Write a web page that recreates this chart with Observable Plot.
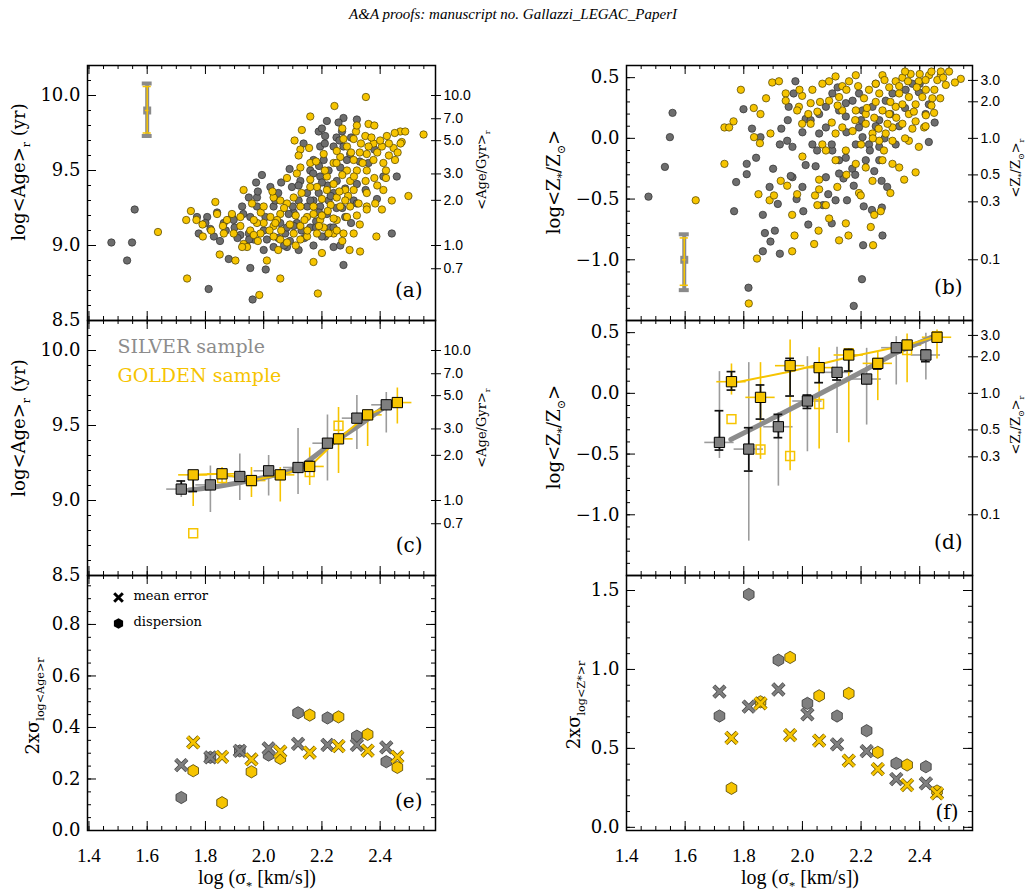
<!DOCTYPE html>
<html><head><meta charset="utf-8">
<script src="https://cdn.jsdelivr.net/npm/d3@7"></script>
<script src="https://cdn.jsdelivr.net/npm/@observablehq/plot@0.6"></script>
<style>
body{margin:0;background:#fff;}
#page{position:relative;width:1027px;height:894px;overflow:hidden;background:#fff;}
</style></head><body><div id="page"></div>
<script>
// ---------------- DATA ----------------
// panel (a): log<Age>_r vs log sigma (silver = grey, golden = yellow)
const ageSilver = [[1.477,9.02],[1.531,8.90],[1.548,9.02],[1.557,9.24],[1.811,8.71],[1.962,8.64],[1.954,8.85],[2.007,8.84],[1.994,9.47],[1.974,9.42],[2.023,9.39],[2.089,9.51],[2.217,9.83],[2.274,9.85],[2.32,9.84],[2.257,9.82],[2.269,9.76],[2.189,9.76],[2.211,9.73],[2.44,9.08],[2.389,9.31],[2.411,9.46],[2.457,9.46],[2.274,8.87],[1.777,9.08],[1.806,9.19],[1.771,9.19],[1.88,8.91],[1.829,9.06],[1.817,9.11],[1.863,9.15],[1.891,9.19],[1.92,9.07],[1.949,9.08],[1.966,9.04],[1.926,9.26],[1.949,9.32],[1.977,9.32],[2.006,9.19],[2.034,9.26],[2.057,9.15],[2.074,9.08],[2.103,9.22],[2.114,9.15],[2.12,8.97],[2.097,9.39],[2.126,9.43],[2.16,9.5],[2.171,9.57],[2.194,9.46],[2.189,9.35],[2.194,9.26],[2.217,9.21],[2.229,9.12],[2.211,9.06],[2.24,8.99],[2.263,9.0],[2.171,9.0],[2.16,9.12],[2.171,9.3],[2.149,9.35],[2.24,9.35],[2.251,9.43],[2.263,9.52],[2.286,9.57],[2.297,9.61],[2.24,9.66],[2.274,9.66],[2.309,9.3],[2.32,9.41],[2.194,9.66],[2.137,9.68],[2.011,9.04],[2.034,8.99],[2.08,8.99],[1.897,9.17],[1.977,9.26],[1.954,9.19],[2.086,9.21],[2.223,9.5],[2.206,9.57],[2.223,9.3],[2.103,9.13],[2.0,9.1],[2.05,9.05],[2.12,9.3],[2.15,9.26],[2.18,9.16],[2.22,9.4],[2.27,9.25],[2.3,9.15],[2.2,9.06],[2.09,9.03],[1.94,9.0],[1.87,9.1],[1.9,9.12],[2.05,9.35],[2.25,9.72],[2.33,9.56],[2.35,9.37],[2.06,9.42],[2.12,9.4],[2.17,9.48],[2.19,9.53],[2.21,9.68],[2.26,9.7],[2.2,9.42],[2.23,9.33],[2.25,9.25],[2.28,9.19],[2.18,9.12],[2.13,9.1],[2.07,9.0],[2.0,8.97],[1.95,9.04],[1.85,9.03],[1.8,9.15],[1.84,9.22],[1.98,9.36],[2.04,9.3],[2.1,9.26],[2.16,9.3],[2.19,9.22],[2.24,9.12],[2.28,9.38],[2.32,9.28],[2.36,9.55],[2.38,9.64],[2.3,9.72],[2.2,9.78],[2.08,9.12],[2.14,9.05],[1.91,9.05],[1.93,9.21]];
const ageGolden = [[1.637,9.09],[1.737,8.78],[1.734,9.17],[1.75,9.23],[1.769,9.17],[1.791,9.06],[1.834,9.29],[1.84,9.21],[1.849,8.94],[1.903,8.9],[1.931,9.37],[1.891,9.21],[1.931,9.01],[1.943,8.99],[2.011,8.9],[1.985,8.67],[2.057,8.78],[2.186,8.68],[2.171,8.89],[2.106,9.7],[2.131,9.77],[2.156,9.65],[2.126,9.64],[2.16,9.86],[2.243,9.93],[2.351,9.99],[2.549,9.74],[2.497,9.33],[2.387,9.06],[2.331,8.96],[2.295,8.97],[2.469,9.76],[2.486,9.76],[2.474,9.69],[2.446,9.65],[2.451,9.57],[2.423,9.73],[2.406,9.66],[2.377,9.68],[2.36,9.81],[2.349,9.73],[2.317,9.76],[2.334,9.68],[2.354,9.61],[2.377,9.57],[2.411,9.55],[2.354,9.5],[2.309,9.57],[2.32,9.5],[2.286,9.5],[2.297,9.43],[2.28,9.37],[2.309,9.37],[2.297,9.26],[2.326,9.28],[2.354,9.35],[2.411,9.37],[2.406,9.24],[2.354,9.26],[2.32,9.2],[2.286,9.19],[2.263,9.26],[2.251,9.17],[2.24,9.08],[2.223,9.08],[2.194,9.17],[2.206,9.12],[2.183,9.08],[2.149,9.06],[2.126,9.04],[2.08,9.02],[2.057,9.04],[2.034,9.06],[2.057,9.21],[2.08,9.28],[2.057,9.3],[2.034,9.32],[2.103,9.32],[2.126,9.26],[2.149,9.19],[2.171,9.21],[2.183,9.39],[2.217,9.37],[2.24,9.41],[2.251,9.32],[2.217,9.46],[2.24,9.55],[2.263,9.59],[2.251,9.63],[2.286,9.66],[2.274,9.71],[2.309,9.71],[2.206,9.61],[2.16,9.55],[2.126,9.52],[2.114,9.48],[2.16,9.39],[2.0,9.15],[1.977,9.15],[1.989,9.08],[1.966,9.17],[2.023,9.19],[2.046,9.17],[2.034,9.13],[1.92,9.13],[1.897,9.08],[1.874,9.17],[1.863,9.08],[1.954,9.1],[1.966,9.07],[1.926,8.99],[2.103,9.08],[2.126,9.13],[2.171,9.26],[2.251,9.1],[2.274,9.08],[2.309,9.08],[2.354,9.24],[2.383,9.28],[2.44,9.3],[2.33,9.62],[2.37,9.72],[2.39,9.62],[2.43,9.6],[2.46,9.62],[2.42,9.5],[2.38,9.45],[2.27,9.47],[2.29,9.33],[2.23,9.27],[2.2,9.2],[2.14,9.17],[2.09,9.14],[2.02,9.1],[1.99,9.22],[1.96,9.28],[2.06,9.1],[2.25,9.55],[2.31,9.46],[2.35,9.43],[2.0,9.26],[2.03,9.36],[2.07,9.25],[2.11,9.2],[2.13,9.35],[2.16,9.44],[2.2,9.31],[2.22,9.23],[2.26,9.36],[2.28,9.3],[2.3,9.62],[2.34,9.55],[2.36,9.66],[2.4,9.7],[2.43,9.68],[2.45,9.75],[2.38,9.8],[2.32,9.8],[2.27,9.78],[2.19,9.13],[2.15,9.1],[2.11,9.0],[2.05,8.97],[1.98,9.03],[1.92,9.19],[1.86,9.13],[1.82,9.1],[1.79,9.14],[2.24,9.18],[2.33,9.14],[2.39,9.4],[2.42,9.45],[2.47,9.68],[2.21,9.5],[2.18,9.56],[2.12,9.6],[2.08,9.45],[2.04,9.15],[2.2,8.95],[2.27,9.03]];
// typical error bar: x, y, silverLo, silverHi, goldenLo, goldenHi
const ageTypical = [1.6, 9.9, 9.73, 10.08, 9.75, 10.06];

// panel (b): log<Z*/Zsun> vs log sigma
const metSilver = [[1.475,-0.48],[1.531,-0.235],[1.548,0.01],[1.557,0.21],[1.767,-0.6],[1.774,-0.36],[1.81,-0.295],[1.81,-0.21],[1.799,0.24],[1.842,-0.16],[1.828,0.08],[1.857,0.01],[1.865,-0.63],[1.872,-0.78],[1.891,-0.85],[1.906,-0.76],[1.865,-0.93],[1.923,-0.95],[1.816,-1.23],[1.916,-0.54],[1.888,-0.4],[2.011,-0.22],[2.003,-0.6],[2.02,-0.71],[2.045,-0.23],[2.08,-0.32],[2.088,-0.46],[2.113,-0.51],[2.14,-0.33],[2.152,-0.51],[2.175,-0.39],[2.209,-0.56],[2.237,-0.59],[2.271,-0.57],[2.273,-0.8],[2.207,-0.88],[2.203,-1.16],[2.175,-1.38],[2.289,-0.4],[2.431,-0.03],[2.451,0.13],[2.431,0.28],[1.966,-0.32],[1.96,-0.31],[1.923,-0.05],[1.948,-0.02],[1.966,-0.07],[1.928,0.08],[1.953,0.26],[1.97,0.37],[1.976,0.47],[2.011,0.16],[2.028,0.15],[2.057,0.04],[2.08,0.09],[2.102,-0.1],[2.125,-0.18],[2.148,-0.16],[2.125,0.23],[2.148,0.29],[2.182,-0.05],[2.205,0.01],[2.227,-0.05],[2.216,-0.18],[2.245,-0.27],[2.262,-0.18],[2.262,-0.07],[2.193,0.09],[2.205,0.23],[2.239,0.26],[2.262,0.15],[2.284,0.31],[2.307,0.37],[2.352,0.4],[2.375,0.45],[2.397,0.38],[2.193,0.37],[2.171,0.31],[2.148,0.18],[2.318,-0.05],[2.08,0.26],[2.057,0.2],[2.102,0.37],[2.034,-0.05],[2.125,-0.29],[2.15,0.05],[2.2,0.15],[2.25,0.1],[2.3,0.2],[2.35,0.25],[2.28,0.0],[2.23,-0.1],[2.17,-0.25],[2.1,-0.05],[2.05,-0.1],[2.0,0.05],[1.95,0.15],[2.12,0.42],[2.25,0.45],[2.4,0.45],[2.0,-0.4],[2.07,-0.55],[2.18,-0.3],[2.33,0.1],[2.42,0.2],[1.9,-0.25],[1.98,-0.5],[2.1,-0.7],[2.27,-0.35]];
const metGolden = [[1.636,-0.51],[1.734,0.09],[1.75,0.09],[1.765,0.14],[1.734,-0.21],[1.79,0.4],[1.834,0.25],[1.857,0.2],[1.876,0.33],[1.835,0.01],[1.855,-0.04],[1.85,-0.46],[1.845,-0.99],[1.817,-1.36],[1.891,0.04],[1.897,0.46],[1.92,0.47],[1.926,-0.35],[1.948,-0.39],[1.888,-0.51],[1.903,-0.47],[1.982,-0.46],[1.965,-0.63],[1.973,-0.8],[1.965,-0.93],[2.04,-0.87],[2.055,-0.76],[2.051,-0.55],[2.043,-0.47],[2.057,-0.34],[2.057,-0.42],[2.08,-0.55],[2.091,-0.66],[2.125,-0.84],[2.148,-0.7],[2.157,-0.8],[2.193,-0.45],[2.199,-0.47],[2.233,-0.73],[2.241,-0.88],[2.245,-0.63],[2.267,-0.6],[2.119,-0.4],[2.113,-0.18],[2.148,-0.1],[2.182,-0.21],[2.216,-0.24],[2.239,-0.35],[2.273,-0.18],[2.278,-0.1],[2.307,-0.21],[2.33,-0.24],[2.347,-0.34],[2.386,-0.28],[2.397,-0.07],[2.307,-0.02],[2.363,-0.02],[2.375,0.08],[2.415,0.09],[2.449,0.21],[2.443,0.33],[2.489,0.44],[2.472,0.52],[2.54,0.49],[2.421,0.19],[2.386,0.14],[2.363,0.2],[2.341,0.12],[2.307,0.09],[2.284,0.04],[2.262,-0.02],[2.239,0.04],[2.216,0.12],[2.245,0.17],[2.273,0.23],[2.296,0.2],[2.318,0.26],[2.341,0.28],[2.363,0.34],[2.386,0.28],[2.409,0.34],[2.421,0.4],[2.397,0.47],[2.369,0.53],[2.341,0.5],[2.318,0.47],[2.296,0.42],[2.273,0.52],[2.25,0.45],[2.227,0.4],[2.21,0.33],[2.182,0.52],[2.159,0.47],[2.136,0.43],[2.113,0.51],[2.091,0.47],[2.068,0.45],[2.034,0.4],[2.028,0.29],[2.051,0.22],[1.999,0.35],[1.988,0.26],[1.982,0.23],[1.943,0.37],[1.943,0.31],[2.028,0.12],[1.999,0.12],[2.068,-0.05],[2.08,-0.1],[2.113,0.04],[2.136,0.09],[2.171,0.06],[2.182,0.23],[2.216,0.2],[2.262,0.37],[2.33,0.37],[2.46,0.48],[2.432,0.52],[2.472,0.55],[2.125,0.34],[2.091,0.31],[2.136,0.23],[2.3,0.3],[2.33,0.43],[2.36,0.47],[2.39,0.42],[2.42,0.48],[2.45,0.4],[2.48,0.5],[2.5,0.55],[2.44,0.55],[2.4,0.53],[2.35,0.55],[2.28,0.48],[2.25,0.3],[2.22,0.25],[2.19,0.43],[2.15,0.4],[2.12,0.27],[2.18,0.15],[2.26,0.08],[2.32,0.17],[2.38,0.22],[2.44,0.27],[2.47,0.33],[2.52,0.46],[2.29,0.12],[2.24,0.0],[2.2,-0.05],[2.35,0.0],[2.42,0.1],[2.06,0.3],[2.02,0.2],[1.99,0.4],[2.1,0.13],[2.0,-0.15],[2.15,-0.3],[2.3,-0.45]];
const metTypical = [1.597, -1.0, -1.25, -0.79, -1.21, -0.82];

// bins (c),(d),(e),(f)
const binXSilver = [1.717,1.817,1.918,2.017,2.118,2.219,2.32,2.421];
const binXGolden = [1.758,1.857,1.958,2.057,2.158,2.257,2.357,2.459];
const binHalfWidth = [0.05,0.05,0.05,0.05,0.05,0.05,0.05,0.05];

// panel (c)
const ageMedSilver = [9.076,9.104,9.16,9.198,9.22,9.382,9.549,9.638];
const ageMedGolden = [9.171,9.178,9.133,9.171,9.227,9.411,9.571,9.653];
const ageOpenGolden = [8.782,9.15,9.13,9.17,9.19,9.498,9.57,9.655];
const ageDispSilverLo = [9.02,8.92,9.0,9.03,9.04,9.13,9.34,9.45];
const ageDispSilverHi = [9.13,9.23,9.31,9.30,9.48,9.57,9.70,9.72];
const ageDispGoldenLo = [8.96,9.11,9.02,8.99,9.10,9.18,9.36,9.51];
const ageDispGoldenHi = [9.19,9.22,9.22,9.22,9.35,9.62,9.60,9.75];
const ageErrSilverLo = [9.06,9.09,9.14,9.18,9.21,9.37,9.53,9.62];
const ageErrSilverHi = [9.13,9.12,9.18,9.22,9.24,9.40,9.57,9.66];
const ageErrGoldenLo = [9.06,9.16,9.11,9.15,9.20,9.39,9.55,9.63];
const ageErrGoldenHi = [9.18,9.20,9.16,9.19,9.26,9.43,9.59,9.67];
const ageTrendSilverX = [1.743,1.817,1.92,2.017,2.117,2.219,2.32,2.42];
const ageTrendSilverY = [9.07,9.085,9.12,9.16,9.21,9.36,9.49,9.63];

// panel (d)
const metMedSilver = [-0.404,-0.459,-0.275,-0.063,0.173,0.118,0.376,0.316];
const metMedGolden = [0.096,-0.033,0.228,0.212,0.316,0.247,0.398,0.462];
const metOpenGolden = [-0.212,-0.462,-0.516,-0.088,0.33,0.25,0.357,0.47];
const metDispSilverLo = [-0.536,-1.217,-0.764,-0.481,-0.33,-0.261,0.069,0.11];
const metDispSilverHi = [0.179,0.253,-0.159,0.302,0.379,0.371,0.467,0.494];
const metDispGoldenLo = [-0.014,-0.544,-0.637,-0.459,-0.407,-0.06,0.088,0.283];
const metDispGoldenHi = [0.242,0.253,0.44,0.376,0.363,0.338,0.489,0.522];
const metErrSilverLo = [-0.467,-0.64,-0.365,-0.124,0.11,0.082,0.343,0.261];
const metErrSilverHi = [-0.143,-0.283,-0.173,-0.014,0.198,0.151,0.407,0.357];
const metErrGoldenLo = [0.027,-0.212,-0.022,0.088,0.184,0.2,0.371,0.426];
const metErrGoldenHi = [0.179,0.069,0.288,0.247,0.363,0.28,0.434,0.489];
const metTrendSilverX = [1.756,1.915,2.011,2.216,2.316,2.446];
const metTrendSilverY = [-0.38,-0.185,-0.065,0.195,0.33,0.467];
const metTrendGoldenX = [1.756,1.955,2.156,2.356,2.455];
const metTrendGoldenY = [0.082,0.178,0.297,0.398,0.467];

// panel (e)
const sAgeErrSilver = [0.254,0.284,0.309,0.319,0.336,0.332,0.332,0.323];
const sAgeErrGolden = [0.342,0.286,0.276,0.306,0.302,0.328,0.31,0.286];
const sAgeDispSilver = [0.128,0.284,0.309,0.293,0.457,0.437,0.366,0.267];
const sAgeDispGolden = [0.232,0.108,0.228,0.28,0.448,0.441,0.373,0.245];
// panel (f)
const sMetErrSilver = [0.859,0.764,0.873,0.715,0.525,0.483,0.306,0.278];
const sMetErrGolden = [0.567,0.785,0.584,0.549,0.422,0.369,0.268,0.215];
const sMetDispSilver = [0.705,1.475,1.059,0.785,0.705,0.612,0.405,0.384];
const sMetDispGolden = [0.247,0.795,1.076,0.833,0.848,0.475,0.395,0.23];

// ticks
const xMajor = [1.4,1.6,1.8,2.0,2.2,2.4];
const xTickLabels = ["1.4","1.6","1.8","2.0","2.2","2.4"];
const xMinor = d3.range(28, 53).map(i => i * 0.05);
const ageMajor = [8.5,9.0,9.5,10.0];
const ageTickLabels = ["8.5","9.0","9.5","10.0"];
const ageMinor = d3.range(85, 103).map(i => i / 10);
const ageGyrTicks = [0.7,1.0,2.0,3.0,5.0,7.0,10.0];
const metMajor = [-1.5,-1.0,-0.5,0.0,0.5];
const metLabelVals = [-1.0,-0.5,0.0,0.5];
const metTickLabels = ["\u22121.0","\u22120.5","0.0","0.5"];
const metMinor = d3.range(-15, 7).map(i => i / 10);
const zRatioTicks = [0.1,0.3,0.5,1.0,2.0,3.0];
const sAgeMajor = [0,0.2,0.4,0.6,0.8];
const sAgeTickLabels = ["0.0","0.2","0.4","0.6","0.8"];
const sAgeMinor = d3.range(0, 20).map(i => i * 0.05);
const sMetMajor = [0,0.5,1.0,1.5];
const sMetTickLabels = ["0.0","0.5","1.0","1.5"];
const sMetMinor = d3.range(0, 16).map(i => i / 10);

// ---------------- STYLE / LAYOUT ----------------
const GREY = "#6d6d6d", GREYMED = "#7f7f7f", GREYDISP = "#9c9c9c", GOLD = "#f6c400";
const SERIF = "DejaVu Serif", TIMES = "Liberation Serif", SANS = "Liberation Sans";
const page = document.getElementById("page");
const colL = {left: 87, right: 435, svgLeft: 0, svgWidth: 510};
const colR = {left: 626, right: 972, svgLeft: 515, svgWidth: 512};
const rowA = {top: 65, bottom: 320}, rowC = {top: 320, bottom: 575}, rowE = {top: 575, bottom: 830};
const xDomL = [1.395, 2.59], xDomR = [1.40, 2.58];
const ageDom = [8.5, 10.2], metDom = [-1.5, 0.6], sAgeDom = [0, 0.99], sMetDom = [-0.02, 1.595];

function inDom(arr, dom) { return arr.filter(v => v >= dom[0] - 1e-9 && v <= dom[1] + 1e-9); }

function frameTicks(col, row, xDom, yDom, yMaj, yMin, mirror) {
  const fw = col.right - col.left, fh = row.bottom - row.top;
  const xa = inDom(xMajor, xDom), xi = inDom(xMinor, xDom), ya = inDom(yMaj, yDom), yi = inDom(yMin, yDom);
  const s = {stroke: "#000", strokeWidth: 1};
  const m = [
    Plot.tickX(xi, {x: d => d, insetTop: fh - 4, ...s}),
    Plot.tickX(xa, {x: d => d, insetTop: fh - 9, ...s}),
    Plot.tickX(xi, {x: d => d, insetBottom: fh - 4, ...s}),
    Plot.tickX(xa, {x: d => d, insetBottom: fh - 9, ...s}),
    Plot.tickY(yi, {y: d => d, insetRight: fw - 4, ...s}),
    Plot.tickY(ya, {y: d => d, insetRight: fw - 9, ...s})
  ];
  if (mirror) m.push(
    Plot.tickY(yi, {y: d => d, insetLeft: fw - 4, ...s}),
    Plot.tickY(ya, {y: d => d, insetLeft: fw - 9, ...s}));
  return m;
}

function leftLabels(vals, labels) {
  return Plot.text(vals.map((v, i) => ({v, t: labels[i]})), {y: "v", text: "t", frameAnchor: "left", dx: -7,
    textAnchor: "end", fontSize: 18, fontFamily: SERIF, fill: "#000"});
}
function bottomLabels() {
  return Plot.text(xMajor.map((v, i) => ({v, t: xTickLabels[i]})), {x: "v", text: "t", frameAnchor: "bottom", dy: 31,
    lineAnchor: "bottom", fontSize: 19, fontFamily: TIMES, fill: "#000"});
}
function letter(s, dx, dy) {
  return Plot.text([s], {text: d => d, frameAnchor: "bottom-right", dx, dy, textAnchor: "end", lineAnchor: "bottom",
    fontSize: 20, fontFamily: SERIF, fill: "#000"});
}
function rightLog(col, vals, offset) {
  const fw = col.right - col.left;
  return [
    Plot.tickY(vals, {y: d => offset + Math.log10(d), insetLeft: fw - 4, insetRight: -6, stroke: "#000", strokeWidth: 1}),
    Plot.text(vals, {y: d => offset + Math.log10(d), text: d => d.toFixed(1), frameAnchor: "right", dx: 8,
      textAnchor: "start", fontSize: 14, fontFamily: SANS, fill: "#000"})
  ];
}
function typicalBar(t) {
  const tb = [{x: t[0], y: t[1], sl: t[2], sh: t[3], gl: t[4], gh: t[5]}];
  return [
    Plot.ruleX(tb, {x: "x", y1: "sl", y2: "sh", stroke: "#8a8a8a", strokeWidth: 4}),
    Plot.ruleY(tb, {y: "sl", x1: d => d.x - 0.017, x2: d => d.x + 0.017, stroke: "#8a8a8a", strokeWidth: 4}),
    Plot.ruleY(tb, {y: "sh", x1: d => d.x - 0.017, x2: d => d.x + 0.017, stroke: "#8a8a8a", strokeWidth: 4}),
    Plot.dot(tb, {x: "x", y: "y", symbol: "square", r: 4.5, fill: "#8a8a8a"}),
    Plot.ruleX(tb, {x: "x", y1: "gl", y2: "gh", stroke: GOLD, strokeWidth: 1.5}),
    Plot.ruleY(tb, {y: "gl", x1: d => d.x - 0.014, x2: d => d.x + 0.014, stroke: GOLD, strokeWidth: 1.5}),
    Plot.ruleY(tb, {y: "gh", x1: d => d.x - 0.014, x2: d => d.x + 0.014, stroke: GOLD, strokeWidth: 1.5}),
    Plot.ruleY(tb, {y: "y", x1: d => d.x - 0.006, x2: d => d.x + 0.006, stroke: GOLD, strokeWidth: 1.5})
  ];
}
function scatter(pts, fill, stroke) {
  return Plot.dot(pts, {x: d => d[0], y: d => d[1], r: 3.7, fill, stroke, strokeWidth: 0.7});
}
function bins(xs, med, dlo, dhi, elo, ehi) {
  return xs.map((x, i) => ({x, m: med[i], dl: dlo[i], dh: dhi[i], el: elo[i], eh: ehi[i], hw: binHalfWidth[i]}));
}
function dispMarks(b, color) {
  return [
    Plot.ruleX(b, {x: "x", y1: "dl", y2: "dh", stroke: color, strokeWidth: 1.6}),
    Plot.ruleY(b, {y: "m", x1: d => d.x - d.hw, x2: d => d.x + d.hw, stroke: color, strokeWidth: 1.6})
  ];
}
function medMarks(b, fill) {
  return [
    Plot.ruleX(b, {x: "x", y1: "el", y2: "eh", stroke: "#111", strokeWidth: 1.7}),
    Plot.ruleY(b, {y: "el", x1: d => d.x - 0.015, x2: d => d.x + 0.015, stroke: "#111", strokeWidth: 1.7}),
    Plot.ruleY(b, {y: "eh", x1: d => d.x - 0.015, x2: d => d.x + 0.015, stroke: "#111", strokeWidth: 1.7}),
    Plot.dot(b, {x: "x", y: "m", symbol: "square", r: 5.8, fill, stroke: "#000", strokeWidth: 1})
  ];
}

function panel(col, row, xDom, yDom, marks, mB = 8) {
  const mT = 8, fw = col.right - col.left, fh = row.bottom - row.top;
  const mL = col.left - col.svgLeft, mR = col.svgWidth - fw - mL;
  const p = Plot.plot({
    width: col.svgWidth, height: mT + fh + mB,
    marginLeft: mL, marginRight: mR, marginTop: mT, marginBottom: mB,
    x: {domain: xDom, axis: null}, y: {domain: yDom, axis: null},
    style: {background: "none", overflow: "visible"},
    marks: [...marks, Plot.frame({stroke: "#000", strokeWidth: 1.5})]
  });
  p.style.position = "absolute";
  p.style.left = col.svgLeft + "px";
  p.style.top = (row.top - mT) + "px";
  page.appendChild(p);
}

// (a)
panel(colL, rowA, xDomL, ageDom, [
  ...frameTicks(colL, rowA, xDomL, ageDom, ageMajor, ageMinor, false),
  ...rightLog(colL, ageGyrTicks, 9),
  leftLabels(ageMajor, ageTickLabels),
  scatter(ageSilver, GREY, "#2e2e2e"),
  scatter(ageGolden, GOLD, "#4a3d00"),
  ...typicalBar(ageTypical),
  letter("(a)", -13, -24)
]);
// (b)
panel(colR, rowA, xDomR, metDom, [
  ...frameTicks(colR, rowA, xDomR, metDom, metMajor, metMinor, false),
  ...rightLog(colR, zRatioTicks, 0),
  leftLabels(metLabelVals, metTickLabels),
  scatter(metSilver, GREY, "#2e2e2e"),
  scatter(metGolden, GOLD, "#4a3d00"),
  ...typicalBar(metTypical),
  letter("(b)", -10, -27)
]);
// (c)
const ageBS = bins(binXSilver, ageMedSilver, ageDispSilverLo, ageDispSilverHi, ageErrSilverLo, ageErrSilverHi);
const ageBG = bins(binXGolden, ageMedGolden, ageDispGoldenLo, ageDispGoldenHi, ageErrGoldenLo, ageErrGoldenHi);
panel(colL, rowC, xDomL, ageDom, [
  ...frameTicks(colL, rowC, xDomL, ageDom, ageMajor, ageMinor, false),
  ...rightLog(colL, ageGyrTicks, 9),
  leftLabels(ageMajor, ageTickLabels),
  ...dispMarks(ageBS, GREYDISP),
  ...dispMarks(ageBG, GOLD),
  Plot.line(ageTrendSilverX.map((x, i) => ({x, y: ageTrendSilverY[i]})), {x: "x", y: "y", stroke: "#8c8c8c", strokeWidth: 5}),
  Plot.line(ageBG, {x: "x", y: "m", stroke: GOLD, strokeWidth: 2}),
  Plot.dot(binXGolden.map((x, i) => ({x, y: ageOpenGolden[i]})), {x: "x", y: "y", symbol: "square", r: 5, fill: "none", stroke: GOLD, strokeWidth: 1.5}),
  ...medMarks(ageBS, GREYMED),
  ...medMarks(ageBG, GOLD),
  Plot.text(["SILVER sample"], {text: d => d, frameAnchor: "top-left", dx: 30, dy: 32, textAnchor: "start", lineAnchor: "bottom", fontSize: 19, fontFamily: SERIF, fill: "#8c8c8c"}),
  Plot.text(["GOLDEN sample"], {text: d => d, frameAnchor: "top-left", dx: 30, dy: 61, textAnchor: "start", lineAnchor: "bottom", fontSize: 19, fontFamily: SERIF, fill: GOLD}),
  letter("(c)", -13, -24)
]);
// (d)
const metBS = bins(binXSilver, metMedSilver, metDispSilverLo, metDispSilverHi, metErrSilverLo, metErrSilverHi);
const metBG = bins(binXGolden, metMedGolden, metDispGoldenLo, metDispGoldenHi, metErrGoldenLo, metErrGoldenHi);
panel(colR, rowC, xDomR, metDom, [
  ...frameTicks(colR, rowC, xDomR, metDom, metMajor, metMinor, false),
  ...rightLog(colR, zRatioTicks, 0),
  leftLabels(metLabelVals, metTickLabels),
  ...dispMarks(metBS, GREYDISP),
  ...dispMarks(metBG, GOLD),
  Plot.line(metTrendSilverX.map((x, i) => ({x, y: metTrendSilverY[i]})), {x: "x", y: "y", stroke: "#8c8c8c", strokeWidth: 5}),
  Plot.line(metTrendGoldenX.map((x, i) => ({x, y: metTrendGoldenY[i]})), {x: "x", y: "y", stroke: GOLD, strokeWidth: 2}),
  Plot.dot(binXGolden.map((x, i) => ({x, y: metOpenGolden[i]})), {x: "x", y: "y", symbol: "square", r: 5, fill: "none", stroke: GOLD, strokeWidth: 1.5}),
  ...medMarks(metBS, GREYMED),
  ...medMarks(metBG, GOLD),
  letter("(d)", -10, -27)
]);
// (e)
function sigmaPanelMarks(errS, errG, dispS, dispG) {
  const tS = binXSilver.map((x, i) => ({x, e: errS[i], d: dispS[i]}));
  const tG = binXGolden.map((x, i) => ({x, e: errG[i], d: dispG[i]}));
  return [
    Plot.dot(tS, {x: "x", y: "d", symbol: "hexagon", r: 5.3, fill: GREYMED, stroke: "#333", strokeWidth: 0.8}),
    Plot.dot(tG, {x: "x", y: "d", symbol: "hexagon", r: 5.3, fill: GOLD, stroke: "#4a3d00", strokeWidth: 0.8}),
    Plot.dot(tS, {x: "x", y: "e", symbol: "times", r: 5.2, stroke: "#444", strokeWidth: 4.2}),
    Plot.dot(tS, {x: "x", y: "e", symbol: "times", r: 5.2, stroke: GREYMED, strokeWidth: 2.8}),
    Plot.dot(tG, {x: "x", y: "e", symbol: "times", r: 5.2, stroke: "#6a5600", strokeWidth: 4.2}),
    Plot.dot(tG, {x: "x", y: "e", symbol: "times", r: 5.2, stroke: GOLD, strokeWidth: 2.8})
  ];
}
panel(colL, rowE, xDomL, sAgeDom, [
  ...frameTicks(colL, rowE, xDomL, sAgeDom, sAgeMajor, sAgeMinor, true),
  leftLabels(sAgeMajor, sAgeTickLabels),
  bottomLabels(),
  ...sigmaPanelMarks(sAgeErrSilver, sAgeErrGolden, sAgeDispSilver, sAgeDispGolden),
  Plot.dot([0], {frameAnchor: "top-left", dx: 31, dy: 22, symbol: "times", r: 4, stroke: "#000", strokeWidth: 3}),
  Plot.dot([0], {frameAnchor: "top-left", dx: 31, dy: 48, symbol: "hexagon", r: 4.6, fill: "#000"}),
  Plot.text(["mean error"], {text: d => d, frameAnchor: "top-left", dx: 46, dy: 24, textAnchor: "start", lineAnchor: "bottom", fontSize: 13, fontFamily: SERIF, fill: "#000"}),
  Plot.text(["dispersion"], {text: d => d, frameAnchor: "top-left", dx: 46, dy: 50, textAnchor: "start", lineAnchor: "bottom", fontSize: 13, fontFamily: SERIF, fill: "#000"}),
  letter("(e)", -13, -23)
], 64);
// (f)
panel(colR, rowE, xDomR, sMetDom, [
  ...frameTicks(colR, rowE, xDomR, sMetDom, sMetMajor, sMetMinor, true),
  leftLabels(sMetMajor, sMetTickLabels),
  bottomLabels(),
  ...sigmaPanelMarks(sMetErrSilver, sMetErrGolden, sMetDispSilver, sMetDispGolden),
  letter("(f)", -14, -12)
], 64);

// ---------------- overlay text ----------------
const ov = d3.select(page).append("svg").attr("width", 1027).attr("height", 894)
  .style("position", "absolute").style("left", "0px").style("top", "0px").style("pointer-events", "none");
function rich(x, y, parts, {rotate = 0, size = 18, family = SERIF, anchor = "middle", fstyle = "normal", fill = "#000"} = {}) {
  const t = ov.append("text").attr("transform", `translate(${x},${y}) rotate(${rotate})`)
    .attr("text-anchor", anchor).attr("font-family", family).attr("font-size", size)
    .attr("font-style", fstyle).attr("fill", fill);
  let shift = 0;
  for (const [s, k] of parts) {
    const target = k === "sub" ? 0.3 * size : 0;
    const fs = k === "sub" ? size * 0.62 : size;
    t.append("tspan").attr("font-size", fs).attr("dy", target - shift).text(s);
    shift = target;
  }
}
rich(513, 19, [["A&A proofs: manuscript no. Gallazzi_LEGAC_PaperI", ""]], {size: 15, family: TIMES, fstyle: "italic"});
const ageTitle = [["log<Age>", ""], ["r", "sub"], [" (yr)", ""]];
rich(25, 172, ageTitle, {rotate: -90});
rich(25, 428, ageTitle, {rotate: -90});
const metTitle = [["log<Z", ""], ["*", "sub"], ["/Z", ""], ["\u2299", "sub"], [">", ""]];
rich(560, 182, metTitle, {rotate: -90});
rich(560, 437, metTitle, {rotate: -90});
const ageR = [["<Age/Gyr>", ""], ["r", "sub"]];
rich(486, 170, ageR, {rotate: -90, size: 13});
rich(486, 428, ageR, {rotate: -90, size: 13});
const metR = [["<Z", ""], ["*", "sub"], ["/Z", ""], ["\u2299", "sub"], [">", ""], ["r", "sub"]];
rich(1020, 168, metR, {rotate: -90, size: 13});
rich(1020, 425, metR, {rotate: -90, size: 13});
rich(39, 706, [["2x\u03c3", ""], ["log<Age>r", "sub"]], {rotate: -90, size: 18});
rich(580, 705, [["2x\u03c3", ""], ["log<Z*>r", "sub"]], {rotate: -90, size: 18});
const xTitle = [["log (\u03c3", ""], ["*", "sub"], [" [km/s])", ""]];
rich(257, 884, xTitle, {size: 20, family: TIMES});
rich(800, 884, xTitle, {size: 20, family: TIMES});
</script>
</body></html>
